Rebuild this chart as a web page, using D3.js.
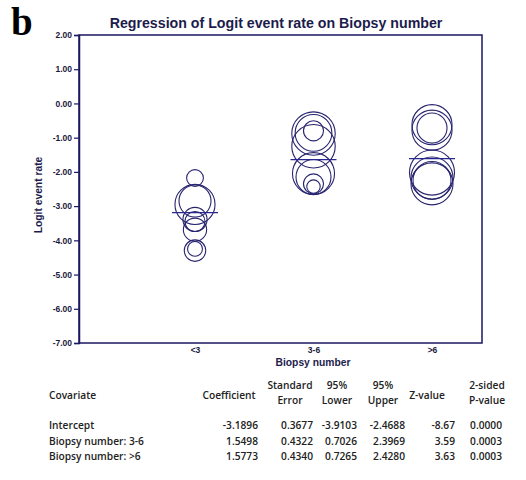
<!DOCTYPE html>
<html>
<head>
<meta charset="utf-8">
<script src="https://cdn.jsdelivr.net/npm/d3@7"></script>
<style>
  html, body { margin: 0; padding: 0; background: #fff; }
  svg { display: block; }
</style>
</head>
<body>
<svg id="chart" width="526" height="480"></svg>
<script>
// Categories on the x axis
const categories = ["<3", "3-6", ">6"];

// Study-level logit event rates per biopsy group, with study weights (bubble size)
const groupOf = ["<3","<3","<3","<3","<3","<3","<3","<3",
                 "3-6","3-6","3-6","3-6","3-6","3-6","3-6","3-6",
                 ">6",">6",">6",">6",">6",">6",">6"];
const logitRate = [-2.18, -2.95, -2.85, -3.39, -3.45, -3.69, -4.30, -4.25,
                   -0.88, -0.86, -0.80, -1.25, -2.05, -2.15, -2.35, -2.43,
                   -0.62, -0.78, -0.72, -2.02, -2.18, -2.35, -2.25];
const studyWeight = [14, 80, 51, 29, 20, 27, 23, 11,
                     94, 67, 20, 94, 88, 61, 20, 9,
                     80, 80, 45, 101, 88, 88, 72];

// Y axis ticks
const yTicks = [2, 1, 0, -1, -2, -3, -4, -5, -6, -7];

// Meta-regression table
const tableHeader = [["Covariate"], ["Coefficient"], ["Standard", "Error"], ["95%", "Lower"],
                     ["95%", "Upper"], ["Z-value"], ["2-sided", "P-value"]];
const covariates  = ["Intercept", "Biopsy number: 3-6", "Biopsy number: >6"];
const coefficient = [-3.1896, 1.5498, 1.5773];
const stdError    = [0.3677, 0.4322, 0.4340];
const lower95     = [-3.9103, 0.7026, 0.7265];
const upper95     = [-2.4688, 2.3969, 2.4280];
const zValue      = [-8.67, 3.59, 3.63];
const pValue      = [0.0000, 0.0003, 0.0003];

const svg = d3.select("#chart");
const navy = "#1b1760";
const ink = "#1a1a40";

const plot = { left: 79, right: 482, top: 35, bottom: 343 };

const x = d3.scalePoint().domain(categories).range([195, 432]);
const y = d3.scaleLinear().domain([-7, 2]).range([plot.bottom, plot.top]);
const r = d3.scaleSqrt().domain([0, 100]).range([0, 22.4]);

// Panel letter
svg.append("text")
  .attr("x", 11).attr("y", 35)
  .attr("font-family", "Liberation Serif, Times New Roman, serif")
  .attr("font-weight", "bold")
  .attr("font-size", 39)
  .attr("fill", "#000")
  .text("b");

// Title
svg.append("text")
  .attr("x", 276).attr("y", 28)
  .attr("text-anchor", "middle")
  .attr("font-family", "Liberation Sans, Arial, sans-serif")
  .attr("font-weight", "bold")
  .attr("font-size", 14.2)
  .attr("fill", "#1c1c4c")
  .text("Regression of Logit event rate on Biopsy number");

// Plot frame
svg.append("rect")
  .attr("x", plot.left).attr("y", plot.top)
  .attr("width", plot.right - plot.left)
  .attr("height", plot.bottom - plot.top)
  .attr("fill", "none")
  .attr("stroke", navy)
  .attr("stroke-width", 1.5);

// Y axis
const fmt = d => d3.format(".2f")(d).replace("\u2212", "-");
const yAxis = svg.append("g")
  .attr("transform", `translate(${plot.left},0)`)
  .call(d3.axisLeft(y).tickValues(yTicks).tickFormat(fmt).tickSize(5).tickPadding(2));
yAxis.select(".domain").attr("stroke", navy).attr("stroke-width", 1.5);
yAxis.selectAll(".tick line").attr("stroke", navy).attr("stroke-width", 1.2);
yAxis.selectAll(".tick text")
  .attr("font-family", "Liberation Sans, Arial, sans-serif")
  .attr("font-weight", "bold")
  .attr("font-size", 8.5)
  .attr("fill", ink);

// X axis labels (no tick marks)
const xAxis = svg.append("g")
  .attr("transform", `translate(0,${plot.bottom})`)
  .call(d3.axisBottom(x).tickSize(0).tickPadding(4));
xAxis.select(".domain").remove();
xAxis.selectAll(".tick text")
  .attr("font-family", "Liberation Sans, Arial, sans-serif")
  .attr("font-weight", "bold")
  .attr("font-size", 8.5)
  .attr("fill", ink);

// Axis titles
svg.append("text")
  .attr("x", 313).attr("y", 366)
  .attr("text-anchor", "middle")
  .attr("font-family", "Liberation Sans, Arial, sans-serif")
  .attr("font-weight", "bold")
  .attr("font-size", 10.3)
  .attr("fill", "#1c1c4c")
  .text("Biopsy number");

svg.append("text")
  .attr("transform", "translate(42,195) rotate(-90)")
  .attr("text-anchor", "middle")
  .attr("font-family", "Liberation Sans, Arial, sans-serif")
  .attr("font-weight", "bold")
  .attr("font-size", 10.3)
  .attr("fill", "#1c1c4c")
  .text("Logit event rate");

// Study bubbles
const studies = logitRate.map((v, i) => ({ group: groupOf[i], value: v, weight: studyWeight[i] }));
svg.append("g")
  .selectAll("circle")
  .data(studies)
  .join("circle")
  .attr("cx", d => x(d.group))
  .attr("cy", d => y(d.value))
  .attr("r", d => r(d.weight))
  .attr("fill", "none")
  .attr("stroke", "#27246e")
  .attr("stroke-width", 1.1);

// Fitted values from the regression coefficients
const fitted = categories.map((c, i) => ({
  group: c,
  value: i === 0 ? coefficient[0] : coefficient[0] + coefficient[i]
}));
svg.append("g")
  .selectAll("line")
  .data(fitted)
  .join("line")
  .attr("x1", d => x(d.group) - 23)
  .attr("x2", d => x(d.group) + 23)
  .attr("y1", d => y(d.value))
  .attr("y2", d => y(d.value))
  .attr("stroke", "#2a2690")
  .attr("stroke-width", 1.2);

// Coefficient table
const tableFont = "Open Sans, Lato, sans-serif";
const colRight = [null, 258, 313, 357, 405, 455, 502];
const colCenter = [null, 229, 290, 337, 383, 427, 487];
const t = svg.append("g")
  .attr("font-family", tableFont)
  .attr("font-weight", 600)
  .attr("font-size", 10.2)
  .attr("fill", "#222");

tableHeader.forEach((lines, j) => {
  const cx = j === 0 ? 49 : colCenter[j];
  const anchor = j === 0 ? "start" : "middle";
  lines.forEach((s, k) => {
    const yy = lines.length === 1 ? 399 : 389 + k * 15;
    t.append("text")
      .attr("x", cx).attr("y", yy)
      .attr("text-anchor", anchor)
      .text(s);
  });
});

const columns = [
  coefficient.map(d3.format(".4f")),
  stdError.map(d3.format(".4f")),
  lower95.map(d3.format(".4f")),
  upper95.map(d3.format(".4f")),
  zValue.map(d3.format(".2f")),
  pValue.map(d3.format(".4f"))
];
covariates.forEach((name, i) => {
  const yy = 429 + i * 15.5;
  t.append("text").attr("x", 49).attr("y", yy).text(name);
  columns.forEach((col, j) => {
    t.append("text")
      .attr("x", colRight[j + 1]).attr("y", yy)
      .attr("text-anchor", "end")
      .text(col[i].replace("\u2212", "-"));
  });
});
</script>
</body>
</html>
